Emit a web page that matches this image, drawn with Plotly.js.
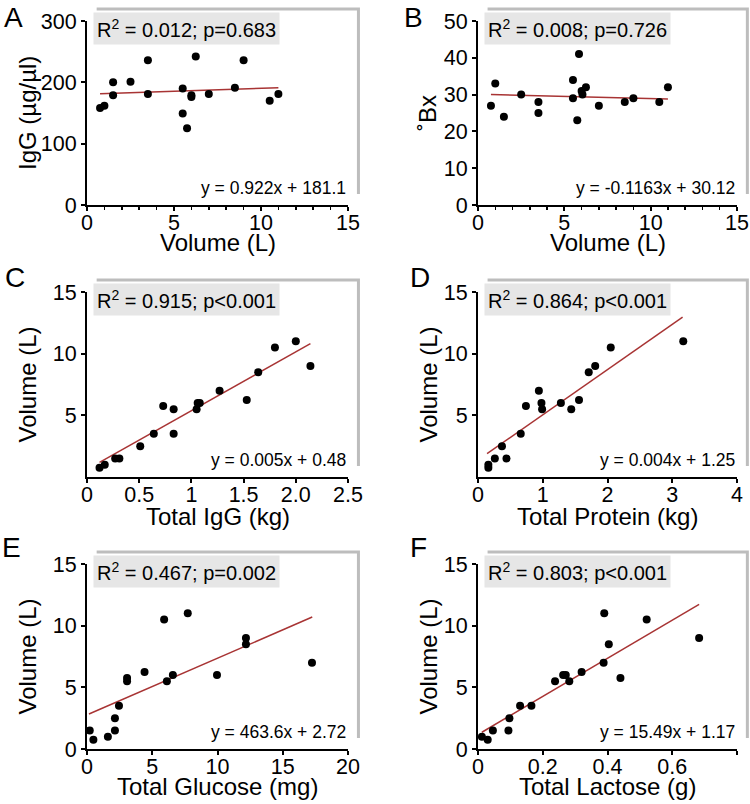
<!DOCTYPE html>
<html>
<head>
<meta charset="utf-8">
<script src="https://cdn.plot.ly/plotly-3.0.1.min.js"></script>
<style>
  body { margin: 0; background: #fff; }
  #chart { width: 750px; height: 804px; }
</style>
</head>
<body>
<div id="chart"></div>
<script>
// values
var volA = [0.75, 1, 1.5, 1.5, 2.5, 3.5, 3.5, 5.5, 5.5, 5.75, 6, 6, 6.25, 7, 8.5, 9, 10.5, 11];
var iggA = [158, 162, 200, 179, 201, 236, 181, 190, 149, 125, 179, 176, 242, 181, 191, 236, 170, 181];

var volB = [0.75, 1, 1.5, 2.5, 3.5, 3.5, 5.5, 5.5, 5.75, 5.85, 6, 6.05, 6.25, 7, 8.5, 9, 10.5, 11];
var brix = [27, 33, 24, 30, 28, 25, 34, 29, 23, 41, 31, 30, 32, 27, 28, 29, 28, 32];

var totIgg = [0.12, 0.17, 0.27, 0.31, 0.51, 0.64, 0.73, 0.83, 0.83, 1.05, 1.06, 1.08, 1.27, 1.53, 1.64, 1.80, 2.00, 2.14];
var volC = [0.75, 1, 1.5, 1.5, 2.5, 3.5, 5.75, 5.5, 3.5, 5.5, 6, 6, 7, 6.25, 8.5, 10.5, 11, 9];

var totProt = [0.16, 0.16, 0.26, 0.44, 0.37, 0.66, 0.74, 0.94, 0.98, 0.99, 1.28, 1.44, 1.56, 1.71, 1.81, 2.05, 3.17];
var volD = [0.75, 1, 1.5, 1.5, 2.5, 3.5, 5.75, 7, 6, 5.5, 6, 5.5, 6.25, 8.5, 9, 10.5, 11];

var totGluc = [0.21, 0.49, 1.6, 2.14, 2.14, 2.45, 3.07, 3.07, 4.41, 5.91, 6.12, 6.58, 7.72, 9.96, 12.18, 12.18, 17.24];
var volE = [1.5, 0.75, 1, 1.5, 2.5, 3.5, 5.75, 5.5, 6.25, 10.5, 5.5, 6, 11, 6, 9, 8.5, 7];

var totLact = [0.012, 0.030, 0.046, 0.094, 0.097, 0.130, 0.165, 0.238, 0.263, 0.271, 0.282, 0.320, 0.388, 0.390, 0.404, 0.440, 0.521, 0.683];
var volF = [1, 0.75, 1.5, 1.5, 2.5, 3.5, 3.5, 5.5, 6, 6, 5.5, 6.25, 7, 11, 8.5, 5.75, 10.5, 9];

// fitted line end points
var fitAx = [0.75, 11], fitAy = [181.5, 191.2];
var fitBx = [0.75, 11], fitBy = [30.0, 28.8];
var fitCx = [0.12, 2.14], fitCy = [1.19, 10.81];
var fitDx = [0.14, 3.16], fitDy = [1.89, 12.97];
var fitEx = [0.15, 17.26], fitEy = [2.84, 10.7];
var fitFx = [0.012, 0.683], fitFy = [1.36, 11.72];

var stats = ['R<sup>2</sup> = 0.012; p=0.683', 'R<sup>2</sup> = 0.008; p=0.726',
             'R<sup>2</sup> = 0.915; p<0.001', 'R<sup>2</sup> = 0.864; p<0.001',
             'R<sup>2</sup> = 0.467; p=0.002', 'R<sup>2</sup> = 0.803; p<0.001'];
var equations = ['y = 0.922x + 181.1', 'y = -0.1163x + 30.12', 'y = 0.005x + 0.48',
                 'y = 0.004x + 1.25', 'y = 463.6x + 2.72', 'y = 15.49x + 1.17'];
var letters = ['A', 'B', 'C', 'D', 'E', 'F'];
var xTitles = ['Volume (L)', 'Volume (L)', 'Total IgG (kg)', 'Total Protein (kg)', 'Total Glucose (mg)', 'Total Lactose (g)'];
var yTitles = ['IgG (µg/µl)', '˚Bx', 'Volume (L)', 'Volume (L)', 'Volume (L)', 'Volume (L)'];

var xTickA = [0, 5, 10, 15];
var yTickA = [0, 100, 200, 300];
var yTickB = [0, 10, 20, 30, 40, 50];
var xTickC = [0, 0.5, 1, 1.5, 2, 2.5], xTextC = ['0', '0.5', '1', '1.5', '2.0', '2.5'];
var xTickD = [0, 1, 2, 3, 4];
var yTickVol = [5, 10, 15];
var xTickE = [0, 5, 10, 15, 20];
var yTickVol0 = [0, 5, 10, 15];
var xTickF = [0, 0.2, 0.4, 0.6, 0.8];

var panels = [
  {x: volA, y: iggA, fx: fitAx, fy: fitAy, xr: [0, 15], yr: [0, 300], xt: xTickA, yt: yTickA, minor: 1},
  {x: volB, y: brix, fx: fitBx, fy: fitBy, xr: [0, 15], yr: [0, 50], xt: xTickA, yt: yTickB, minor: 1},
  {x: totIgg, y: volC, fx: fitCx, fy: fitCy, xr: [0, 2.5], yr: [0, 15], xt: xTickC, xtt: xTextC, yt: yTickVol},
  {x: totProt, y: volD, fx: fitDx, fy: fitDy, xr: [0, 4], yr: [0, 15], xt: xTickD, yt: yTickVol},
  {x: totGluc, y: volE, fx: fitEx, fy: fitEy, xr: [0, 20], yr: [0, 15], xt: xTickE, yt: yTickVol0},
  {x: totLact, y: volF, fx: fitFx, fy: fitFy, xr: [0, 0.8], yr: [0, 15], xt: xTickF, yt: yTickVol0}
];

// pixel boxes of the plot areas (750 x 804 page)
var W = 750, H = 804;
var colPx = [[87, 348], [478, 737]];
var rowPx = [[21, 205], [292, 477], [564, 749]];
var letterTop = [[2, 0], [402, 0], [3, 260], [408, 260], [0, 530], [408, 530]];
var yTitleX = [27, 427, 27, 428, 27, 428];
var xTitleY = [242, 242, 516, 516, 786, 786];

var FONT = '"Liberation Sans", Arial, sans-serif';
var data = [], shapes = [], annotations = [];
var layout = {
  width: W, height: H,
  margin: {l: 0, r: 0, t: 0, b: 0},
  paper_bgcolor: '#fff', plot_bgcolor: 'rgba(0,0,0,0)',
  showlegend: false,
  font: {family: FONT, color: '#000'}
};

function txt(size) { return {size: size, family: FONT, color: '#000'}; }

panels.forEach(function (p, i) {
  var n = i === 0 ? '' : String(i + 1);
  var xa = 'x' + n, ya = 'y' + n;
  var col = colPx[i % 2], row = rowPx[Math.floor(i / 2)];

  data.push({
    x: p.fx, y: p.fy, xaxis: xa, yaxis: ya, mode: 'lines', type: 'scatter',
    line: {color: '#a83434', width: 1.5}, hoverinfo: 'skip'
  });
  data.push({
    x: p.x, y: p.y, xaxis: xa, yaxis: ya, mode: 'markers', type: 'scatter',
    marker: {color: '#000', size: 8}
  });

  var xaxis = {
    domain: [col[0] / W, col[1] / W], anchor: ya, range: p.xr,
    tickvals: p.xt, ticktext: p.xtt, showgrid: false, zeroline: false,
    showline: true, linecolor: '#000', linewidth: 2,
    ticks: 'outside', ticklen: 4, tickwidth: 2, tickcolor: '#000',
    ticklabelstandoff: -7,
    tickfont: txt(21.5), automargin: false, fixedrange: true
  };
  if (p.minor) {
    xaxis.minor = {dtick: p.minor, ticks: 'outside', ticklen: 2.5, tickwidth: 1.5, tickcolor: '#000', showgrid: false};
  }
  var yaxis = {
    domain: [1 - row[1] / H, 1 - row[0] / H], anchor: xa, range: p.yr,
    tickvals: p.yt, showgrid: false, zeroline: false,
    showline: true, linecolor: '#000', linewidth: 2,
    ticks: 'outside', ticklen: 4, tickwidth: 2, tickcolor: '#000',
    tickfont: txt(21.5), automargin: false, fixedrange: true
  };
  layout['xaxis' + n] = xaxis;
  layout['yaxis' + n] = yaxis;

  // grey offset frame (top + right)
  shapes.push({
    type: 'path', xref: xa + ' domain', yref: ya + ' domain',
    path: 'M 0.037 1.065 L 1.04 1.065 L 1.04 0.06',
    line: {color: '#bdbdbd', width: 3}
  });

  annotations.push({
    xref: xa + ' domain', yref: ya + ' domain', x: 0.022, y: 0.957,
    xanchor: 'left', yanchor: 'middle', showarrow: false,
    text: stats[i], bgcolor: '#e6e6e6', borderpad: 3, font: txt(20)
  });
  annotations.push({
    xref: xa + ' domain', yref: ya + ' domain', x: 1, y: 0.092,
    xanchor: 'right', yanchor: 'middle', showarrow: false,
    text: equations[i], font: txt(17.5)
  });
  // axis titles
  annotations.push({
    xref: xa + ' domain', yref: 'paper', x: 0.5, y: 1 - xTitleY[i] / H,
    xanchor: 'center', yanchor: 'middle', showarrow: false,
    text: xTitles[i], font: txt(24)
  });
  annotations.push({
    xref: 'paper', yref: ya + ' domain', x: yTitleX[i] / W, y: 0.5,
    xanchor: 'center', yanchor: 'middle', showarrow: false, textangle: -90,
    text: yTitles[i], font: txt(24)
  });
  // panel letter
  annotations.push({
    xref: 'paper', yref: 'paper', x: letterTop[i][0] / W, y: 1 - letterTop[i][1] / H,
    xanchor: 'left', yanchor: 'top', showarrow: false,
    text: letters[i], font: txt(28)
  });
});

layout.shapes = shapes;
layout.annotations = annotations;

Plotly.newPlot('chart', data, layout, {displayModeBar: false, staticPlot: true});
</script>
</body>
</html>
